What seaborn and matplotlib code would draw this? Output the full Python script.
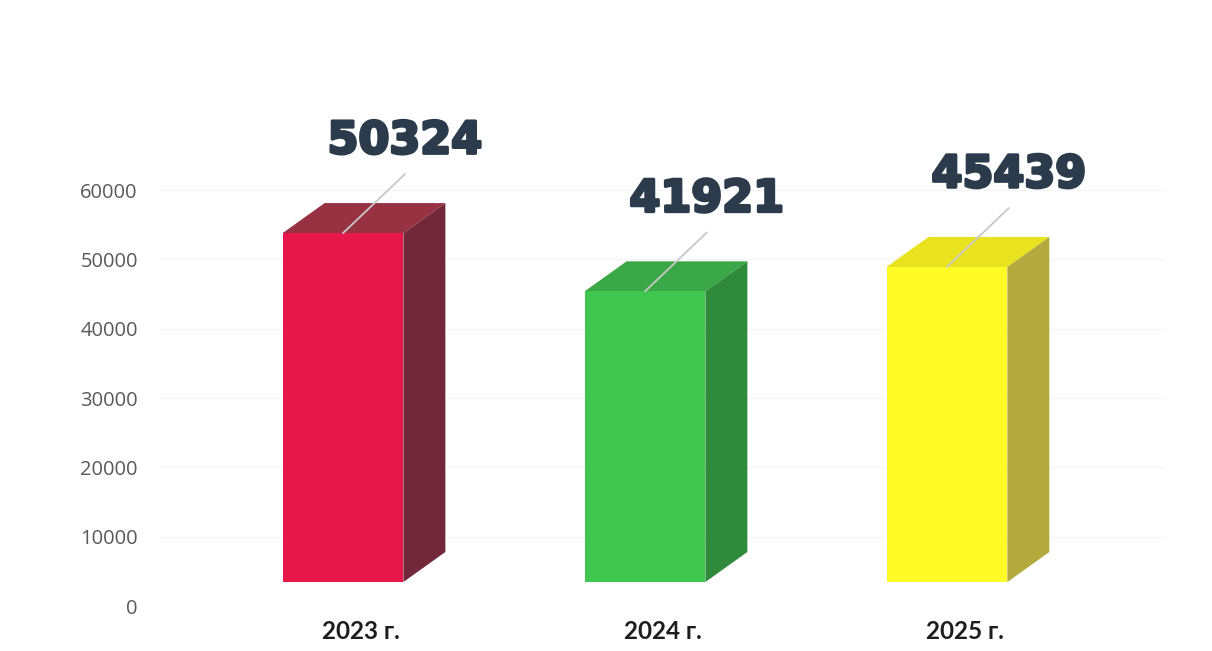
import pandas as pd
import matplotlib
matplotlib.use("Agg")
import matplotlib.pyplot as plt
import seaborn as sns
from matplotlib.patches import Polygon
import matplotlib.patheffects as pe

# données
years = ["2023 г.", "2024 г.", "2025 г."]
values = [50324, 41921, 45439]
front_colors = ["#e8174b", "#3ec64f", "#fffb26"]
top_colors = ["#983242", "#3aa847", "#e9e21f"]
side_colors = ["#72283a", "#2f8b3b", "#b3aa3d"]
yticks = [0, 10000, 20000, 30000, 40000, 50000, 60000]

df = pd.DataFrame({"year": years, "value": values})

sns.set_theme(style="white")
plt.rcParams["font.family"] = ["Open Sans", "DejaVu Sans"]

fig = plt.figure(figsize=(12.12, 6.51), dpi=100)
ax = fig.add_axes([160 / 1212, 45 / 651, 1005 / 1212, 520 / 651])

# pseudo-3D : décalage du plan avant, profondeur
offset = 3460
depth_x = 0.139
depth_y = 4330
width = 0.40

sns.barplot(data=df, x="year", y="value", hue="year", palette=front_colors,
            width=width, bottom=offset, legend=False, ax=ax, zorder=3,
            saturation=1, linewidth=0)

for i, v in enumerate(values):
    x0, x1 = i - width / 2, i + width / 2
    y0, y1 = offset, offset + v
    # face du dessus
    ax.add_patch(Polygon([(x0, y1), (x1, y1), (x1 + depth_x, y1 + depth_y),
                          (x0 + depth_x, y1 + depth_y)],
                         closed=True, facecolor=top_colors[i], edgecolor="none", zorder=2))
    # face latérale
    ax.add_patch(Polygon([(x1, y0), (x1 + depth_x, y0 + depth_y),
                          (x1 + depth_x, y1 + depth_y), (x1, y1)],
                         closed=True, facecolor=side_colors[i], edgecolor="none", zorder=2))
    # ligne de repère + étiquette
    ax.plot([i, i + 0.205], [y1, y1 + 8500], color="#c8c8c8", lw=1.3, zorder=4)
    ax.text(i + 0.205, y1 + 10200, f"{v}", ha="center", va="bottom",
            fontsize=32, fontweight="bold", color="#2b3b4c",
            family=["DejaVu Sans"], zorder=5,
            path_effects=[pe.withStroke(linewidth=2.2, foreground="#2b3b4c")])

ax.set_xlim(-0.606, 2.722)
ax.set_ylim(0, 75000)
ax.set_yticks(yticks)
ax.set_yticklabels([str(t) for t in yticks], fontsize=14.5, color="#595959")
ax.tick_params(axis="y", length=0, pad=16)
ax.set_xticks([])
for i, y in enumerate(years):
    ax.text(i + 0.06, -2000, y, ha="center", va="top", fontsize=17.5, fontweight="bold",
            color="#1e1e1e", family=["Lato", "DejaVu Sans"])

for t in yticks[1:]:
    ax.axhline(t, color="#f4f4f4", lw=0.8, zorder=0)

ax.set_xlabel("")
ax.set_ylabel("")
sns.despine(ax=ax, left=True, bottom=True)

fig.savefig("out.png", dpi=100, facecolor="white")
